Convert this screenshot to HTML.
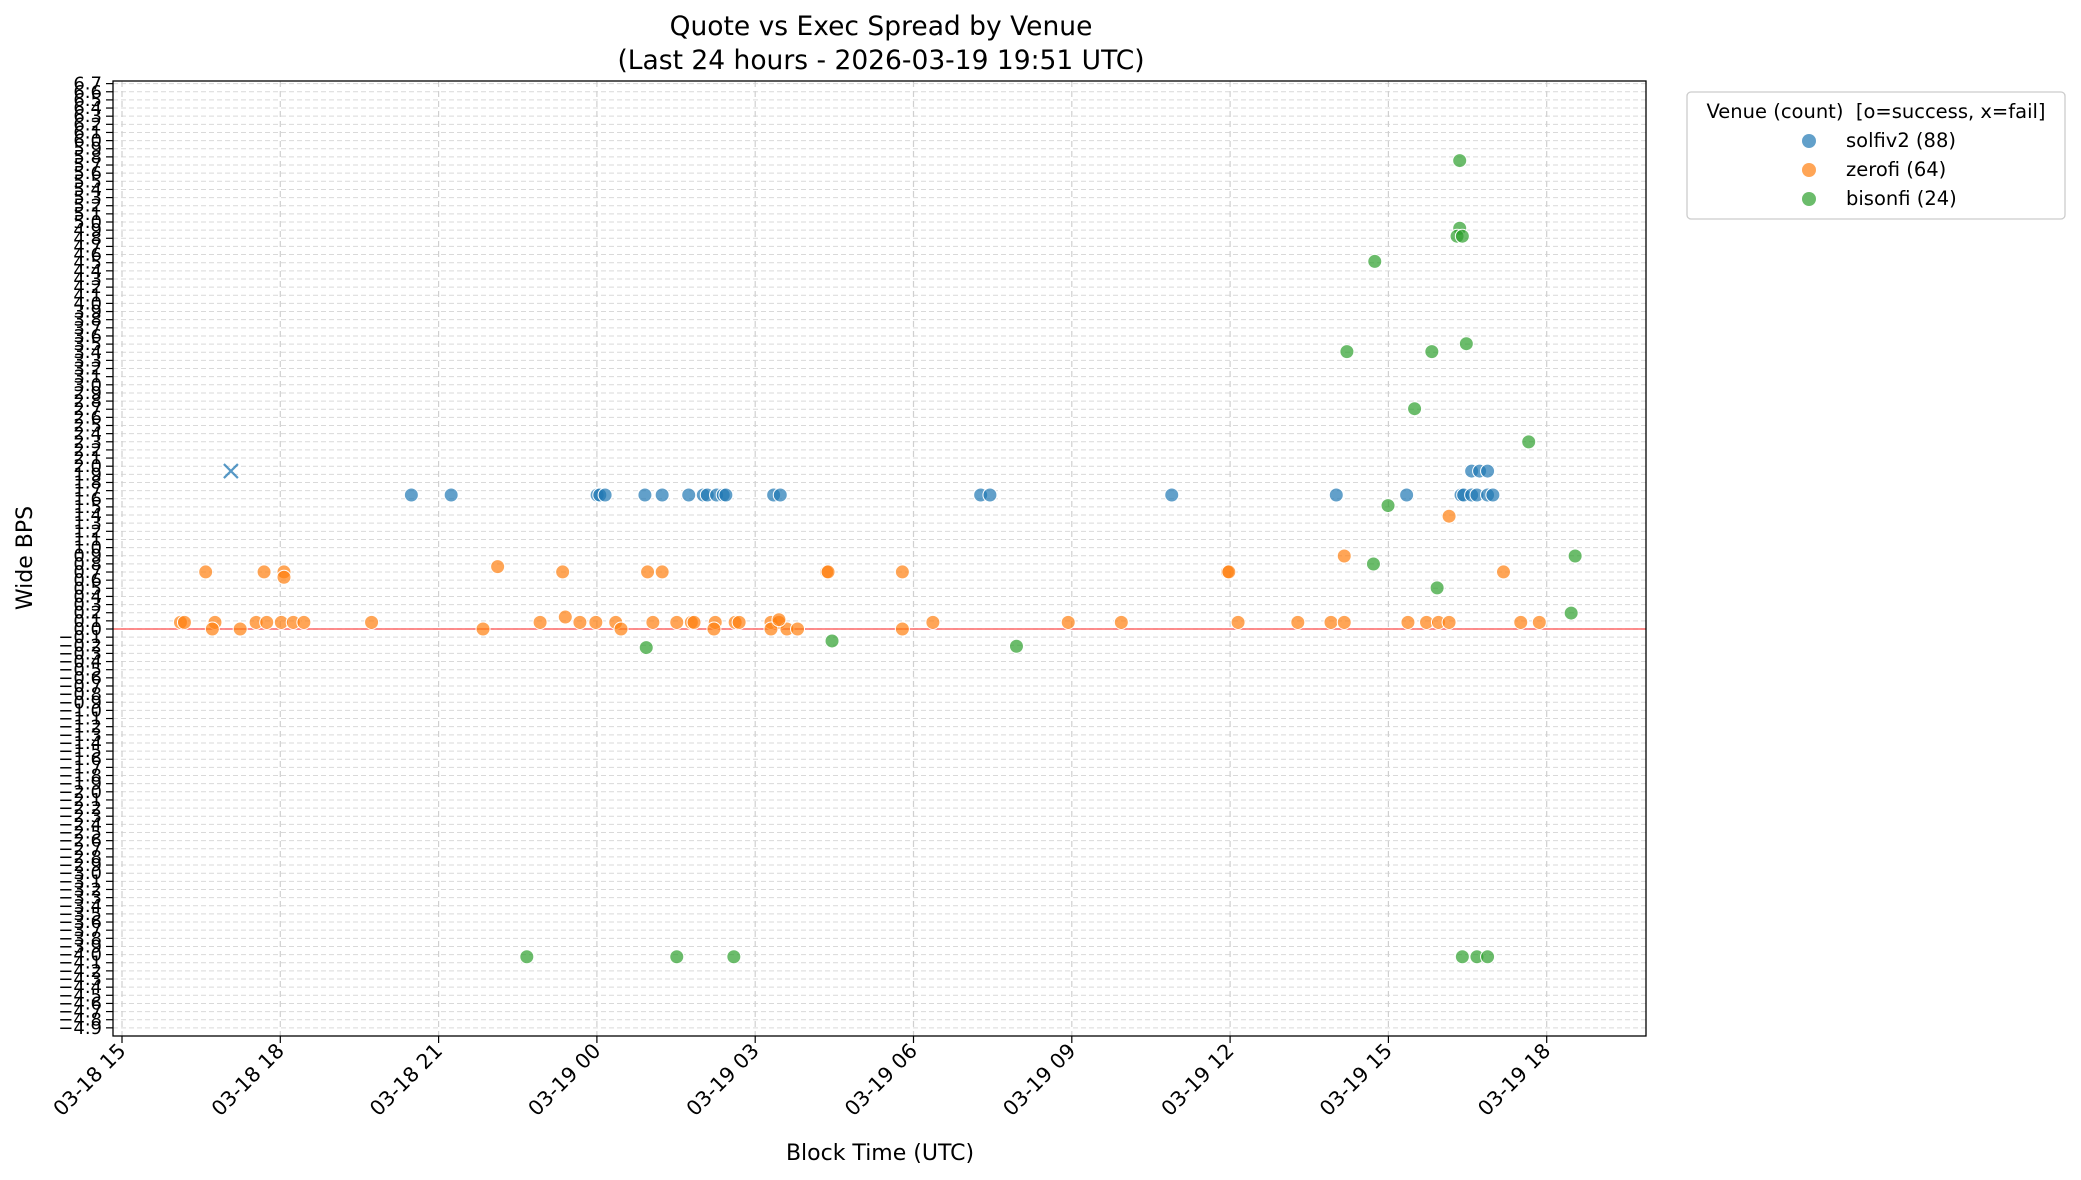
<!DOCTYPE html>
<html><head><meta charset="utf-8"><style>
html,body{margin:0;padding:0;background:#fff;}
svg{display:block;font-family:"DejaVu Sans","Liberation Sans",sans-serif;}
</style></head><body>
<svg id="s" width="2081" height="1180" viewBox="0 0 2081 1180" xmlns="http://www.w3.org/2000/svg">
<rect width="2081" height="1180" fill="#fff"/>
<g id="grid"></g>
<line x1="113" y1="629" x2="1646" y2="629" stroke="#ff0000" stroke-opacity="0.7" stroke-width="1.3"/>
<g id="pts"></g>
<rect x="113" y="81" width="1533" height="955" fill="none" stroke="#000" stroke-width="1.3"/>
<g id="ticks" font-size="17" fill="#000"></g>
<text x="881" y="35" text-anchor="middle" font-size="26.5">Quote vs Exec Spread by Venue</text>
<text x="881" y="69" text-anchor="middle" font-size="26.5">(Last 24 hours - 2026-03-19 19:51 UTC)</text>
<text x="880" y="1160" text-anchor="middle" font-size="22">Block Time (UTC)</text>
<text transform="translate(32,558) rotate(-90)" text-anchor="middle" font-size="22">Wide BPS</text>
<rect x="1687" y="92" width="378" height="127" rx="4" fill="#fff" stroke="#ccc" stroke-width="1.3"/>
<text x="1876" y="118" text-anchor="middle" font-size="19.5">Venue (count)&#160; [o=success, x=fail]</text>
<circle cx="1809" cy="141" r="7" fill="#1f77b4" fill-opacity="0.7"/>
<circle cx="1809" cy="170" r="7" fill="#ff7f0e" fill-opacity="0.7"/>
<circle cx="1809" cy="199" r="7" fill="#2ca02c" fill-opacity="0.7"/>
<text x="1846" y="147" font-size="19.5">solfiv2 (88)</text>
<text x="1846" y="176" font-size="19.5">zerofi (64)</text>
<text x="1846" y="205" font-size="19.5">bisonfi (24)</text>
</svg>
<script>
var NS="http://www.w3.org/2000/svg";
function el(p,t,a,txt){var e=document.createElementNS(NS,t);for(var k in a)e.setAttribute(k,a[k]);if(txt!=null)e.textContent=txt;p.appendChild(e);return e;}
var g=document.getElementById('grid'),tk=document.getElementById('ticks'),P=document.getElementById('pts');
var step=8.14;
for(var i=-49;i<=67;i++){var y=629-i*step;
 el(g,'line',{x1:113,x2:1646,y1:y,y2:y,stroke:'#d9d9d9','stroke-dasharray':'5,3','stroke-width':1});
 el(tk,'line',{x1:106,x2:113,y1:y,y2:y,stroke:'#000','stroke-width':1.2});
 var v=(Math.abs(i)/10).toFixed(1);
 el(tk,'text',{x:102,y:y+6,'text-anchor':'end','font-size':18},(i<0?'\u2212':'')+v);}
var lab=['03-18 15','03-18 18','03-18 21','03-19 00','03-19 03','03-19 06','03-19 09','03-19 12','03-19 15','03-19 18'];
for(var j=0;j<10;j++){var x=122+158.3*j;
 el(g,'line',{x1:x,x2:x,y1:81,y2:1036,stroke:'#d0d0d0','stroke-dasharray':'6,4','stroke-width':1.2});
 el(tk,'line',{x1:x,x2:x,y1:1036,y2:1043,stroke:'#000','stroke-width':1.2});
 el(tk,'text',{transform:'translate('+(x+5)+',1052) rotate(-45)','text-anchor':'end','font-size':20.5},lab[j]);}
var k=1.327;
var C={b:'#1f77b4',o:'#ff7f0e',g:'#2ca02c'};
function pt(c,x,y){el(P,'circle',{cx:x*k,cy:y*k,r:7,fill:C[c],'fill-opacity':0.7,stroke:'#fff','stroke-width':1});}
[310,340,450,452,456,486,499,519,530,533,540,545,547,583,588,739,746,883,1007,1060,1101,1103,1109,1113,1121,1125].forEach(function(x){pt('b',x,373);});
[1109,1115,1121].forEach(function(x){pt('b',x,355);});
[136,139,162,193,201,212,221,229,280,407,437,449,464,492,510,521,523,539,554,557,581,587,703,805,845,933,978,1003,1013,1061,1075,1084,1092,1146,1160].forEach(function(x){pt('o',x,469);});
[160,181,364,468,538,581,593,601,680].forEach(function(x){pt('o',x,474);});
pt('o',426,465);pt('o',587,467);
[155,199,214,424,488,499,623,624,680,925,926,1133].forEach(function(x){pt('o',x,431);});
pt('o',214,435);pt('o',375,427);pt('o',1013,419);pt('o',1092,389);
[[1100,121],[1100,172],[1098,178],[1102,178],[1036,197],[1015,265],[1079,265],[1105,259],[1066,308],[1152,333],[1046,381],[1187,419],[1035,425],[1083,443],[1184,462],[487,488],[627,483],[766,487],[397,721],[510,721],[553,721],[1102,721],[1113,721],[1121,721]].forEach(function(p){pt('g',p[0],p[1]);});
var cx=174*k,cy=355*k;
el(P,'path',{d:'M'+(cx-7)+' '+(cy-7)+'L'+(cx+7)+' '+(cy+7)+'M'+(cx-7)+' '+(cy+7)+'L'+(cx+7)+' '+(cy-7),stroke:'#1f77b4','stroke-opacity':0.75,'stroke-width':2.2,fill:'none'});
</script>
</body></html>
